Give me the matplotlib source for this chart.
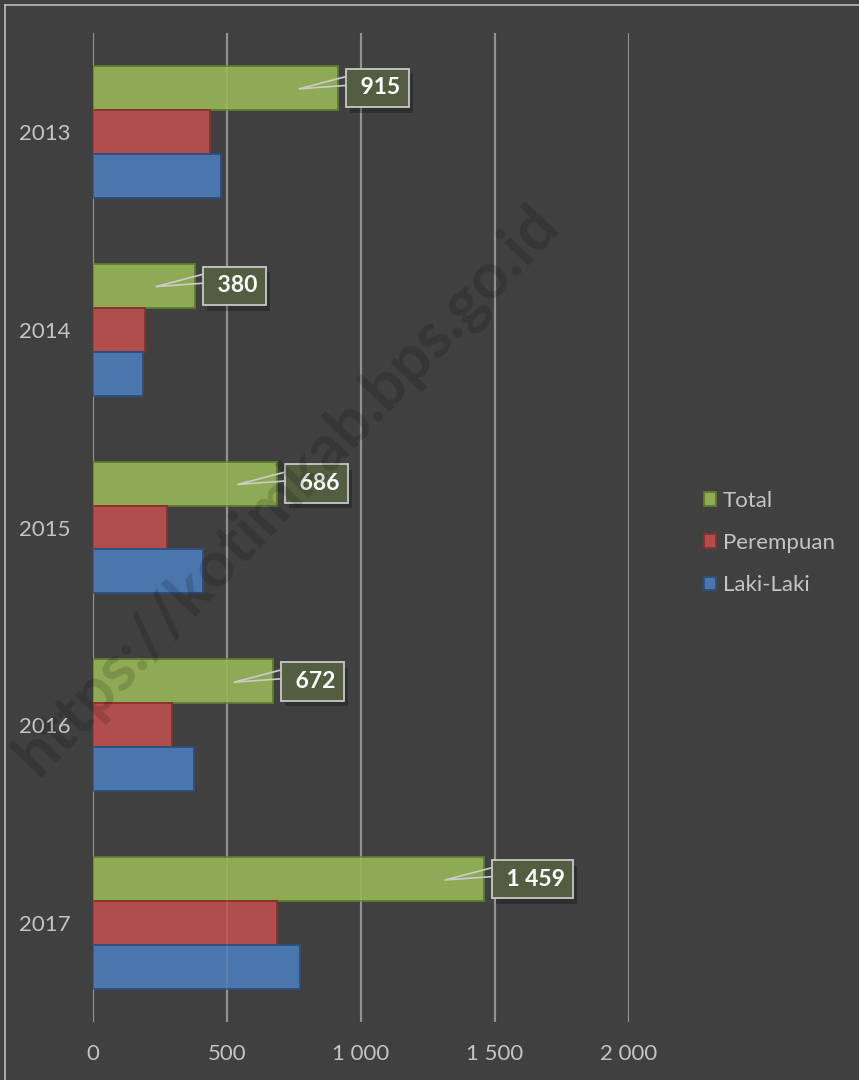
import matplotlib
matplotlib.use("Agg")
import matplotlib.pyplot as plt
import matplotlib.patheffects as pe
from matplotlib.ticker import FuncFormatter
import numpy as np

plt.rcParams['font.family'] = ['Lato', 'DejaVu Sans']

years = ["2013", "2014", "2015", "2016", "2017"]
total = [915, 380, 686, 672, 1459]
perempuan = [437, 195, 277, 295, 687]
laki = [478, 185, 409, 377, 772]

bg = "#404040"
txt = "#c4c4c4"

def fmt(v, pos=None):
    return f"{v:,.0f}".replace(",", " ")

fig = plt.figure(figsize=(8.59, 10.8), dpi=100, facecolor=bg)
ax = fig.add_axes([93/859, 1-1022/1080, 536/859, 989/1080])
ax.set_facecolor(bg)

y = np.arange(len(years))
h = 0.222
ax.barh(y - h, total, height=h, color="#8eaa55", edgecolor="#5e7b30", lw=1.3, zorder=3, label="Total")
ax.barh(y, perempuan, height=h, color="#b04e4c", edgecolor="#8a2f2d", lw=1.3, zorder=3, label="Perempuan")
ax.barh(y + h, laki, height=h, color="#4a76ad", edgecolor="#2d4e7c", lw=1.3, zorder=3, label="Laki-Laki")

ax.set_xlim(0, 2000)
ax.set_ylim(len(years) - 0.5, -0.5)
ax.set_yticks(y)
ax.set_yticklabels(years)
ax.set_xticks([0, 500, 1000, 1500, 2000])
ax.xaxis.set_major_formatter(FuncFormatter(fmt))
ax.tick_params(axis="y", length=0, pad=16, labelsize=16, labelcolor=txt)
ax.tick_params(axis="x", length=0, pad=16, labelsize=16, labelcolor=txt)
for s in ax.spines.values():
    s.set_visible(False)

# gridlines behind, plus a faint copy over the bars
for gx in [0, 500, 1000, 1500, 2000]:
    ax.axvline(gx, color="#888888", lw=1.6, zorder=1)
    ax.axvline(gx, color="#ffffff", lw=1.2, alpha=0.1, zorder=4)

# callout labels for Total
for i, v in enumerate(total):
    yc = i - h
    ax.plot([v + 30, v - 145, v + 30], [yc - 0.058, yc + 0.004, yc - 0.013],
            color="#cccccc", lw=1.2, zorder=5)
    t = ax.annotate(" " + fmt(v), xy=(v, yc), xytext=(12, 0), textcoords="offset points",
                    ha="left", va="center", fontsize=16.5, fontweight="bold", color="white",
                    bbox=dict(boxstyle="square,pad=0.38", fc="#535e40", ec="#c8c8c8", lw=1.3),
                    zorder=6)
    t.get_bbox_patch().set_path_effects([
        pe.SimplePatchShadow(offset=(3, -4), shadow_rgbFace="black", alpha=0.25),
        pe.Normal()])

handles, labels = ax.get_legend_handles_labels()
leg = fig.legend(handles, labels, loc="center left", bbox_to_anchor=(684/859, 1-543/1080),
                 frameon=False, fontsize=16, labelcolor=txt, handlelength=0.55,
                 handleheight=0.55, handletextpad=0.3, labelspacing=1.0)

# watermark
fig.text(286/859, 1-490/1080, "https://kotimkab.bps.go.id", rotation=46.5, fontsize=46,
         fontweight="bold", color="black", alpha=0.15, ha="center", va="center", zorder=10)

# outer chart border
fig.add_artist(plt.Line2D([4.5/859, 4.5/859], [0, 1-4.5/1080], transform=fig.transFigure,
                          color="#bdbdbd", lw=1.2))
fig.add_artist(plt.Line2D([4.5/859, 1], [1-4.5/1080, 1-4.5/1080], transform=fig.transFigure,
                          color="#bdbdbd", lw=1.2))

fig.savefig("out.png", dpi=100, facecolor=bg)
